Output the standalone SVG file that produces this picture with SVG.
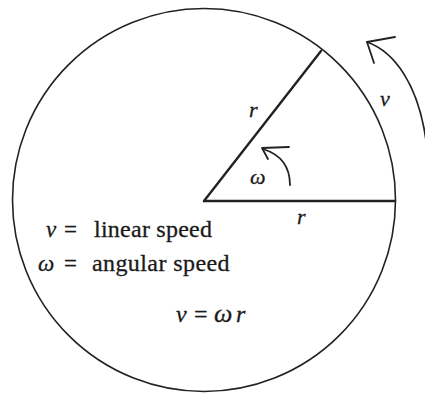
<svg xmlns="http://www.w3.org/2000/svg" width="425" height="394" viewBox="0 0 425 394">
<rect width="425" height="394" fill="#fff"/>
<g id="circle" fill="none" stroke="#222"><circle cx="204" cy="200" r="191.5" stroke-width="1.6"/></g>
<g id="connectors" fill="none" stroke="#222" stroke-linecap="round" stroke-linejoin="round">
<line x1="204" y1="201" x2="395" y2="201" stroke-width="2.4"/>
<line x1="204" y1="201" x2="321" y2="51" stroke-width="2.4"/>
<path d="M290,185 C290,168 282,155 263,149" stroke-width="1.8"/>
<path d="M289,147 L262,148 L268,159" stroke-width="1.8"/>
<path d="M367,42 C395,52 418,85 426,140" stroke-width="1.8"/>
<path d="M395,37 L367,42 L374,63" stroke-width="1.8"/>
</g>
<g id="labels" fill="#1a1a1a" stroke="#1a1a1a" stroke-width="0.3">
<text x="249" y="117" font-family="Liberation Serif" font-style="italic" font-size="22">r</text>
<text x="380" y="106" font-family="Liberation Serif" font-style="italic" font-size="22">v</text>
<text x="250" y="184" font-family="Liberation Serif" font-style="italic" font-size="22">ω</text>
<text x="297" y="224" font-family="Liberation Serif" font-style="italic" font-size="22">r</text>
</g>
<g id="legend" fill="#1a1a1a" stroke="#1a1a1a" stroke-width="0.3">
<text x="46" y="236.5" font-family="Liberation Serif" font-size="23" font-style="italic">v</text>
<text x="64" y="236.5" font-family="Liberation Serif" font-size="23">=</text>
<text x="94" y="236.5" font-family="Liberation Serif" font-size="24" textLength="118">linear speed</text>
<text x="38" y="271" font-family="Liberation Serif" font-size="23" font-style="italic">ω</text>
<text x="64" y="271" font-family="Liberation Serif" font-size="23">=</text>
<text x="92" y="271" font-family="Liberation Serif" font-size="24" textLength="137.5">angular speed</text>
<text x="176" y="322" font-family="Liberation Serif" font-size="24" font-style="italic">v</text>
<text x="194" y="322" font-family="Liberation Serif" font-size="24">=</text>
<text x="214" y="322" font-family="Liberation Serif" font-size="26" font-style="italic">ω</text>
<text x="236" y="322" font-family="Liberation Serif" font-size="24" font-style="italic">r</text>
</g>
</svg>
